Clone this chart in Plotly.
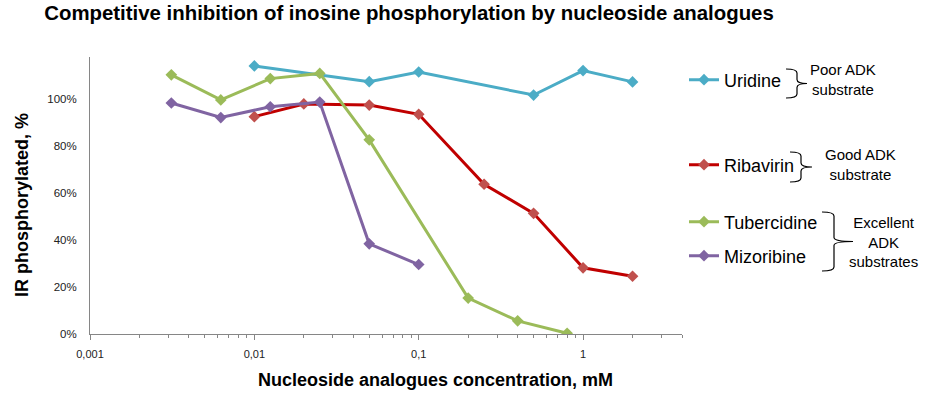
import plotly.graph_objects as go

# ---- data ----
uridine_x = [0.01, 0.05, 0.1, 0.5, 1, 2]
uridine_y = [1.142, 1.075, 1.116, 1.018, 1.122, 1.074]

ribavirin_x = [0.01, 0.02, 0.05, 0.1, 0.25, 0.5, 1, 2]
ribavirin_y = [0.926, 0.980, 0.975, 0.936, 0.638, 0.514, 0.282, 0.246]

tubercidine_x = [0.003125, 0.00625, 0.0125, 0.025, 0.05, 0.2, 0.4, 0.8]
tubercidine_y = [1.104, 0.997, 1.088, 1.110, 0.827, 0.153, 0.056, 0.003]

mizoribine_x = [0.003125, 0.00625, 0.0125, 0.025, 0.05, 0.1]
mizoribine_y = [0.984, 0.922, 0.968, 0.988, 0.384, 0.296]

x_tickvals = [0.001, 0.01, 0.1, 1]
x_ticktext = ["0,001", "0,01", "0,1", "1"]
y_tickvals = [0, 0.2, 0.4, 0.6, 0.8, 1.0]

W, H = 927, 395
L, R, T, B = 90, 682, 57, 334

def px(x):
    return (x - L) / (R - L)

def py(y):
    return (B - y) / (B - T)

series = [
    ("Uridine", uridine_x, uridine_y, "#4BACC6", "#4BACC6", "legend"),
    ("Ribavirin", ribavirin_x, ribavirin_y, "#C00000", "#C0504D", "legend2"),
    ("Tubercidine", tubercidine_x, tubercidine_y, "#9BBB59", "#9BBB59", "legend3"),
    ("Mizoribine", mizoribine_x, mizoribine_y, "#8064A2", "#8064A2", "legend4"),
]

fig = go.Figure()
for name, xs, ys, lc, mc, lg in series:
    fig.add_trace(go.Scatter(
        x=xs, y=ys, name=name, mode="lines+markers",
        line=dict(color=lc, width=3),
        marker=dict(symbol="diamond", size=9, color=mc),
        legend=lg,
    ))

legend_y = {"legend": 80, "legend2": 165, "legend3": 222, "legend4": 256}
leg_common = dict(font=dict(family="Liberation Sans, Arial", size=18, color="#000"),
                  bgcolor="rgba(0,0,0,0)", xanchor="left", yanchor="middle",
                  itemwidth=30, tracegroupgap=0)
legends = {}
for k, yy in legend_y.items():
    legends[k] = dict(x=px(684), y=py(yy), **leg_common)

minor_vals = []
for d in [0.001, 0.01, 0.1, 1]:
    for m in range(2, 10):
        v = d * m
        if v <= 4:
            minor_vals.append(v)

fig.update_layout(
    width=W, height=H,
    margin=dict(l=L, r=W - R, t=T, b=H - B),
    paper_bgcolor="white", plot_bgcolor="white",
    showlegend=True,
    font=dict(family="Liberation Sans, Arial", color="#000"),
    title=dict(text="<b>Competitive inhibition of inosine phosphorylation by nucleoside analogues</b>",
               x=409 / W, xanchor="center", y=1 - 13 / H, yanchor="middle",
               font=dict(family="Liberation Sans, Arial", size=20.4, color="#000")),
    xaxis=dict(type="log", range=[-3, 0.60206],
               tickvals=x_tickvals, ticktext=x_ticktext,
               showgrid=False, zeroline=False,
               showline=True, linecolor="#868686", linewidth=1,
               ticks="outside", ticklen=5, tickcolor="#868686",
               ticklabelstandoff=5,
               tickfont=dict(size=11, color="#222"),
               minor=dict(tickvals=minor_vals, ticks="outside", ticklen=3,
                          tickcolor="#868686", showgrid=False)),
    yaxis=dict(range=[0, 1.18], tickvals=y_tickvals, tickformat=".0%",
               showgrid=False, zeroline=False,
               showline=True, linecolor="#868686", linewidth=1,
               ticks="", ticklabelstandoff=10,
               tickfont=dict(size=11.5, color="#222")),
    **legends,
)

# axis titles
fig.add_annotation(text="<b>Nucleoside analogues concentration, mM</b>",
                   xref="paper", yref="paper", x=px(435), y=py(380),
                   xanchor="center", yanchor="middle", showarrow=False,
                   font=dict(size=18, color="#000"))
fig.add_annotation(text="<b>IR phosphorylated, %</b>",
                   xref="paper", yref="paper", x=px(22), y=py(205),
                   xanchor="center", yanchor="middle", showarrow=False, textangle=-90,
                   font=dict(size=18, color="#000"))

# brace labels
labels = [
    ("Poor ADK<br>substrate", 843, 80),
    ("Good ADK<br>substrate", 860, 164),
    ("Excellent<br>ADK<br>substrates", 883, 242),
]
for txt, xx, yy in labels:
    fig.add_annotation(text=txt, xref="paper", yref="paper", x=px(xx), y=py(yy),
                       xanchor="center", yanchor="middle", showarrow=False,
                       font=dict(size=15, color="#000"))

def brace(x0, x1, xt, y0, y1, r=4):
    ym = (y0 + y1) / 2
    pts = [
        f"M {px(x0)},{py(y0)}",
        f"Q {px(x1)},{py(y0)} {px(x1)},{py(y0 + r)}",
        f"L {px(x1)},{py(ym - r)}",
        f"Q {px(x1)},{py(ym)} {px(xt)},{py(ym)}",
        f"Q {px(x1)},{py(ym)} {px(x1)},{py(ym + r)}",
        f"L {px(x1)},{py(y1 - r)}",
        f"Q {px(x1)},{py(y1)} {px(x0)},{py(y1)}",
    ]
    return " ".join(pts)

braces = [(786, 797, 807, 69, 98), (790, 801, 812, 152, 182), (822, 834, 853, 212, 271)]
for b in braces:
    fig.add_shape(type="path", path=brace(*b), xref="paper", yref="paper",
                  line=dict(color="#000", width=1.2))

fig.write_html("out.html", config={"displayModeBar": False},
               post_script="document.body.style.margin='0';")
